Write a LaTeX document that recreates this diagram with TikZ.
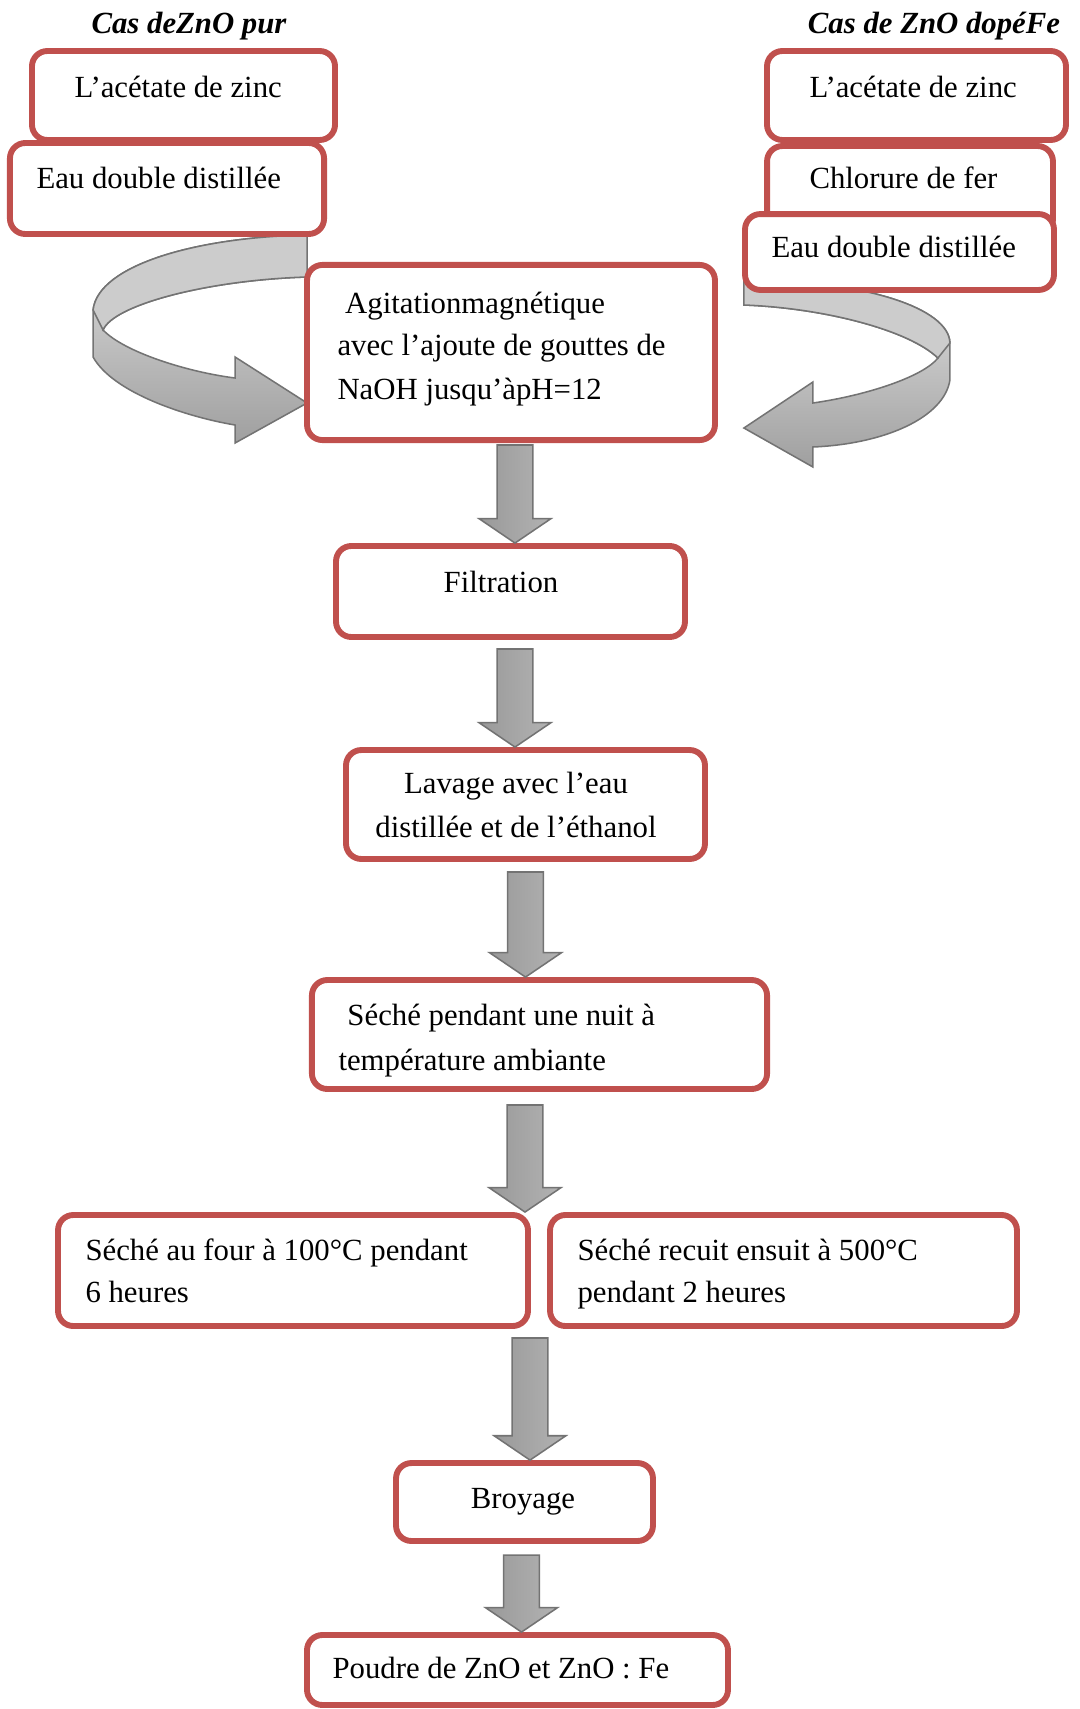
\documentclass[tikz,border=0pt]{standalone}
\usepackage{fontspec}
\setmainfont{Liberation Serif}
\usetikzlibrary{calc,backgrounds}
\definecolor{rouge}{HTML}{C0504D}
\tikzset{
  boite/.style={draw=rouge, line width=2.3pt, rounded corners=6pt, fill=white, inner sep=0pt},
  texte/.style={inner sep=0pt, font=\fontsize{12}{16.4}\selectfont, align=left, anchor=north west},
  titre/.style={inner sep=0pt, font=\fontsize{12}{16.4}\selectfont\bfseries\itshape, anchor=north},
  ruban/.style={draw=black!55, line width=0.6pt, top color=gray!25, bottom color=gray!75},
  dessus/.style={draw=black!55, line width=0.6pt, fill=gray!40},
  bloc/.style={draw=black!55, line width=0.6pt, left color=gray!80, middle color=gray!35, right color=gray!60}
}
% fleche epaisse : #1 = depart (coordinate), #2 = boite d'arrivee
\newcommand{\fleche}[2]{%
  \path[bloc] let \p1=(#1), \p2=(#1 |- #2.north) in
    (\x1-7pt,\y1) -- (\x1+7pt,\y1) -- (\x1+7pt,\y2+9.5pt) -- (\x1+14pt,\y2+9.5pt)
    -- (\x1,\y2) -- (\x1-14pt,\y2+9.5pt) -- (\x1-7pt,\y2+9.5pt) -- cycle;}
\begin{document}
\begin{tikzpicture}[x=0.39pt, y=-0.39pt]
\useasboundingbox (0,0) rectangle (1079,1709);

% cas ZnO pur
\node[titre] (titreG) at (189,3.6) {\strut Cas deZnO pur};
\node[boite, minimum width=118.2pt, minimum height=34.7pt] (zincG) at (183.5,95.5) {};
\node[texte] (tzincG) at (74,67.3) {\strut L’acétate de zinc};
\node[boite, minimum width=122.5pt, minimum height=35.5pt] (eauG) at (167,188.5) {};
\node[texte] (teauG) at (36,158.6) {\strut Eau double distillée};

% cas ZnO dope Fe
\node[titre] (titreD) at (934,3.6) {\strut Cas de ZnO dopéFe};
\node[boite, minimum width=116.6pt, minimum height=34.7pt] (zincD) at (916.5,95.5) {};
\node[texte] (tzincD) at (809,67.6) {\strut L’acétate de zinc};
\node[boite, minimum width=111.5pt, minimum height=34.7pt] (fer) at (910,190.5) {};
\node[texte] (tfer) at (809,158.6) {\strut Chlorure de fer};
\node[boite, minimum width=120.5pt, minimum height=29.6pt] (eauD) at (899.5,252) {};
\node[texte] (teauD) at (771,227.6) {\strut Eau double distillée};

% etapes
\node[boite, minimum width=159.1pt, minimum height=68.3pt] (agit) at (511,352.5) {};
\node[texte] (tagit) at (337,283.6) {\strut\hspace{3pt}Agitationmagnétique\\avec l’ajoute de gouttes de\\[0.6pt]NaOH jusqu’àpH=12};
\node[boite, minimum width=136.1pt, minimum height=35.5pt] (filt) at (510.5,591.5) {};
\node[texte, anchor=north] (tfilt) at (501,562.6) {\strut Filtration};
\node[boite, minimum width=140pt, minimum height=42.5pt] (lav) at (525.5,804.5) {};
\node[texte, anchor=north, align=center] (tlav) at (516,763.6) {\strut Lavage avec l’eau\\[0.8pt]distillée et de l’éthanol};
\node[boite, minimum width=177.5pt, minimum height=42.5pt] (sech) at (539.5,1034.5) {};
\node[texte] (tsech) at (338,995.6) {\strut\hspace{3.5pt}Séché pendant une nuit à\\[1.2pt]température ambiante};
\node[boite, minimum width=183.3pt, minimum height=43.3pt] (four) at (293,1270.5) {};
\node[texte] (tfour) at (85,1230.6) {\strut Séché au four à 100°C pendant\\6 heures};
\node[boite, minimum width=182.1pt, minimum height=43.3pt] (recuit) at (783.5,1270.5) {};
\node[texte] (trecuit) at (577,1230.6) {\strut Séché recuit ensuit à 500°C\\pendant 2 heures};
\node[boite, minimum width=100.2pt, minimum height=30.4pt] (broy) at (524.5,1502) {};
\node[texte, anchor=north] (tbroy) at (523,1478.6) {\strut Broyage};
\node[boite, minimum width=164.2pt, minimum height=27.3pt] (poudre) at (517.5,1670) {};
\node[texte] (tpoudre) at (332,1648.6) {\strut Poudre de ZnO et ZnO : Fe};

% fleches courbes (sous les boites)
\coordinate (pointeG) at ($(agit.west)+(3,50.5)$);
\coordinate (pointeD) at ($(agit.east)+(26,75.5)$);
\begin{scope}[on background layer]
  \begin{scope}[shift={(pointeG)}]
    \path[ruban] (0,-168) .. controls (-110,-166) and (-209,-138) .. (-214,-93)
      -- (-214,-46) .. controls (-194,-10) and (-120,14) .. (-72,22)
      -- (-72,40) -- (0,0) -- (-72,-46) -- (-72,-25)
      .. controls (-120,-31) and (-183,-51) .. (-204,-73)
      .. controls (-194,-98) and (-100,-123) .. (0,-126) -- cycle;
    \path[dessus] (0,-168) .. controls (-110,-166) and (-209,-138) .. (-214,-93)
      -- (-204,-73) .. controls (-194,-98) and (-100,-123) .. (0,-126) -- cycle;
  \end{scope}
  \begin{scope}[shift={(pointeD)}]
    \path[ruban] (0,-148) .. controls (120,-148) and (205,-120) .. (206,-85)
      -- (206,-48) .. controls (200,-10) and (140,16) .. (69,19)
      -- (69,39) -- (0,0) -- (69,-46) -- (69,-25)
      .. controls (125,-33) and (180,-52) .. (194,-70)
      .. controls (165,-98) and (80,-120) .. (0,-123) -- cycle;
    \path[dessus] (0,-148) .. controls (120,-148) and (205,-120) .. (206,-85)
      -- (194,-70) .. controls (165,-98) and (80,-120) .. (0,-123) -- cycle;
  \end{scope}
\end{scope}

% fleches droites
\coordinate (d1) at (515,445);
\coordinate (d2) at (515,649);
\coordinate (d3) at (525.5,872);
\coordinate (d4) at (525,1105);
\coordinate (d5) at (530,1338);
\coordinate (d6) at (521.5,1555);
\fleche{d1}{filt}
\fleche{d2}{lav}
\fleche{d3}{sech}
\fleche{d4}{four}
\fleche{d5}{broy}
\fleche{d6}{poudre}

\end{tikzpicture}
\end{document}
